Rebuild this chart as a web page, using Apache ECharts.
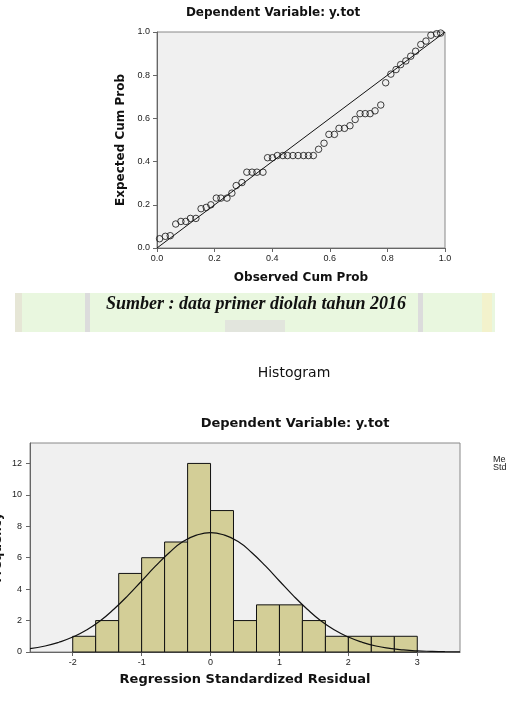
<!DOCTYPE html>
<html>
<head>
<meta charset="utf-8">
<script src="https://cdn.jsdelivr.net/npm/echarts@6/dist/echarts.min.js"></script>
<style>
html, body { margin: 0; padding: 0; background: #fff; }
#chart { width: 506px; height: 710px; }
</style>
</head>
<body>
<div id="chart"></div>
<script>
// normal P-P plot points
var obsCumProb = [0.009, 0.029, 0.046, 0.065, 0.083, 0.100, 0.116, 0.135, 0.153, 0.171,
  0.187, 0.206, 0.222, 0.243, 0.260, 0.275, 0.295, 0.312, 0.330, 0.347,
  0.368, 0.384, 0.401, 0.418, 0.437, 0.453, 0.472, 0.490, 0.509, 0.526,
  0.543, 0.561, 0.580, 0.597, 0.616, 0.632, 0.651, 0.670, 0.688, 0.705,
  0.723, 0.740, 0.757, 0.777, 0.794, 0.812, 0.830, 0.846, 0.864, 0.881,
  0.898, 0.916, 0.934, 0.951, 0.971, 0.985]
var expCumProb = [0.043, 0.054, 0.057, 0.111, 0.123, 0.123, 0.137, 0.137, 0.182, 0.188,
  0.200, 0.231, 0.231, 0.231, 0.254, 0.289, 0.303, 0.351, 0.351, 0.351,
  0.351, 0.418, 0.418, 0.428, 0.428, 0.428, 0.428, 0.428, 0.428, 0.428,
  0.428, 0.457, 0.485, 0.526, 0.526, 0.554, 0.554, 0.566, 0.595, 0.622,
  0.622, 0.622, 0.635, 0.662, 0.765, 0.805, 0.826, 0.849, 0.866, 0.888,
  0.911, 0.942, 0.958, 0.985, 0.992, 0.995]
var refLine = [[0, 0], [1, 1]]

// histogram bins
var binStart = [-2, -1.667, -1.333, -1, -0.667, -0.333, 0, 0.333, 0.667, 1, 1.333, 1.667, 2, 2.333, 2.667]
var binEnd = [-1.667, -1.333, -1, -0.667, -0.333, 0, 0.333, 0.667, 1, 1.333, 1.667, 2, 2.333, 2.667, 3]
var frequency = [1, 2, 5, 6, 7, 12, 9, 2, 3, 3, 2, 1, 1, 1, 1]

// normal curve over the histogram
var curveX = [-2.62, -2.4, -2.2, -2.0, -1.8, -1.6, -1.4, -1.2, -1.0, -0.8, -0.6, -0.4, -0.2, 0,
  0.2, 0.4, 0.6, 0.8, 1.0, 1.2, 1.4, 1.6, 1.8, 2.0, 2.2, 2.4, 2.6, 2.8, 3.0, 3.2, 3.4, 3.62]
var curveY = [0.22, 0.38, 0.62, 0.95, 1.40, 1.99, 2.74, 3.59, 4.52, 5.46, 6.32, 7.03, 7.44, 7.6,
  7.44, 7.03, 6.32, 5.46, 4.52, 3.59, 2.74, 1.99, 1.40, 0.95, 0.62, 0.38, 0.23, 0.13, 0.07, 0.04, 0.02, 0.01]

var histXTicks = [-2, -1, 0, 1, 2, 3]
var histYTicks = [0, 2, 4, 6, 8, 10, 12]

var chart = echarts.init(document.getElementById('chart'))

var labelFont = { fontSize: 9, color: '#222', fontFamily: 'Liberation Sans' }
var nameFont = { fontSize: 12, fontWeight: 'bold', color: '#111', fontFamily: 'DejaVu Sans' }
var axisGray = { color: '#666', width: 1 }

var histData = binStart.map(function (s, i) { return [s, binEnd[i], frequency[i]] })
var curveData = curveX.map(function (x, i) { return [x, curveY[i]] })
var ppData = obsCumProb.map(function (x, i) { return [x, expCumProb[i]] })

var option = {
  backgroundColor: '#fff',
  animation: false,
  grid: [
    { left: 157, top: 32, width: 288, height: 216, outerBoundsMode: 'none', show: true, backgroundColor: '#f0f0f0', borderColor: '#888', borderWidth: 1 },
    { left: 30, top: 443, width: 430, height: 209, outerBoundsMode: 'none', show: true, backgroundColor: '#f0f0f0', borderColor: '#888', borderWidth: 1 }
  ],
  xAxis: [{
    gridIndex: 0, type: 'value', min: 0, max: 1, interval: 0.2,
    axisLine: { show: true, onZero: false, lineStyle: axisGray },
    axisTick: { show: true, length: 4, lineStyle: axisGray },
    axisLabel: Object.assign({ margin: 6, formatter: function (v) { return v.toFixed(1) } }, labelFont),
    splitLine: { show: false },
    name: 'Observed Cum Prob', nameLocation: 'middle', nameGap: 24, nameTextStyle: nameFont
  }, {
    gridIndex: 1, type: 'value', min: -2.62, max: 3.62,
    axisLine: { show: true, onZero: false, lineStyle: axisGray },
    axisTick: { show: true, length: 4, lineStyle: axisGray, customValues: histXTicks },
    axisLabel: Object.assign({ margin: 6, customValues: histXTicks }, labelFont),
    splitLine: { show: false },
    name: 'Regression Standardized Residual', nameLocation: 'middle', nameGap: 21,
    nameTextStyle: Object.assign({}, nameFont, { fontSize: 13 })
  }],
  yAxis: [{
    gridIndex: 0, type: 'value', min: 0, max: 1, interval: 0.2,
    axisLine: { show: true, onZero: false, lineStyle: axisGray },
    axisTick: { show: true, length: 4, lineStyle: axisGray },
    axisLabel: Object.assign({ margin: 7, formatter: function (v) { return v.toFixed(1) } }, labelFont),
    splitLine: { show: false },
    name: 'Expected Cum Prob', nameLocation: 'middle', nameGap: 27, nameTextStyle: nameFont
  }, {
    gridIndex: 1, type: 'value', min: 0, max: 13.3,
    axisLine: { show: true, onZero: false, lineStyle: axisGray },
    axisTick: { show: true, length: 4, lineStyle: axisGray, customValues: histYTicks },
    axisLabel: Object.assign({ margin: 8, customValues: histYTicks }, labelFont),
    splitLine: { show: false },
    name: 'Frequency', nameLocation: 'middle', nameGap: 26, nameMoveOverlap: false, nameTextStyle: nameFont
  }],
  series: [{
    type: 'line', xAxisIndex: 0, yAxisIndex: 0, data: refLine,
    symbol: 'none', lineStyle: { color: '#111', width: 1 }, z: 2
  }, {
    type: 'scatter', xAxisIndex: 0, yAxisIndex: 0, data: ppData,
    symbol: 'circle', symbolSize: 6.5,
    itemStyle: { color: 'rgba(240,240,240,0)', borderColor: '#111', borderWidth: 1 }, z: 3
  }, {
    type: 'custom', xAxisIndex: 1, yAxisIndex: 1, data: histData,
    encode: { x: [0, 1], y: 2 },
    renderItem: function (params, api) {
      var p0 = api.coord([api.value(0), api.value(2)])
      var p1 = api.coord([api.value(1), 0])
      return {
        type: 'rect',
        shape: { x: p0[0], y: p0[1], width: p1[0] - p0[0], height: p1[1] - p0[1] },
        style: { fill: '#d3ce97', stroke: '#111', lineWidth: 1 }
      }
    },
    z: 2
  }, {
    type: 'line', xAxisIndex: 1, yAxisIndex: 1, data: curveData,
    smooth: true, symbol: 'none', lineStyle: { color: '#111', width: 1.2 }, z: 3
  }],
  graphic: [
    // faint watermark band behind the source note
    { type: 'rect', silent: true, z: -10, shape: { x: 15, y: 293, width: 480, height: 39 }, style: { fill: '#e9f7df' } },
    { type: 'rect', silent: true, z: -9, shape: { x: 15, y: 293, width: 7, height: 39 }, style: { fill: '#e6e6d6' } },
    { type: 'rect', silent: true, z: -9, shape: { x: 85, y: 293, width: 5, height: 39 }, style: { fill: '#dcdcdc' } },
    { type: 'rect', silent: true, z: -9, shape: { x: 225, y: 320, width: 60, height: 12 }, style: { fill: '#e2e5dd' } },
    { type: 'rect', silent: true, z: -9, shape: { x: 418, y: 293, width: 5, height: 39 }, style: { fill: '#dcdcdc' } },
    { type: 'rect', silent: true, z: -9, shape: { x: 482, y: 293, width: 10, height: 39 }, style: { fill: '#f3f2cc' } },
    {
      type: 'text', x: 273, y: 13,
      style: { text: 'Dependent Variable: y.tot', fontSize: 12, fontWeight: 'bold', fontFamily: 'DejaVu Sans', fill: '#111', textAlign: 'center', textVerticalAlign: 'middle' }
    },
    {
      type: 'text', x: 256, y: 304,
      style: { text: 'Sumber : data primer diolah tahun 2016', fontSize: 18, fontWeight: 'bold', fontStyle: 'italic', fontFamily: 'Liberation Serif', fill: '#111', textAlign: 'center', textVerticalAlign: 'middle' }
    },
    {
      type: 'text', x: 294, y: 373,
      style: { text: 'Histogram', fontSize: 14, fontFamily: 'DejaVu Sans', fill: '#111', textAlign: 'center', textVerticalAlign: 'middle' }
    },
    {
      type: 'text', x: 295, y: 424,
      style: { text: 'Dependent Variable: y.tot', fontSize: 13, fontWeight: 'bold', fontFamily: 'DejaVu Sans', fill: '#111', textAlign: 'center', textVerticalAlign: 'middle' }
    },
    {
      type: 'text', x: 493, y: 460,
      style: { text: 'Mean = 1.08E-15', fontSize: 9, fontFamily: 'Liberation Sans', fill: '#222', textVerticalAlign: 'middle' }
    },
    {
      type: 'text', x: 493, y: 468,
      style: { text: 'Std. Dev. = 0.982', fontSize: 9, fontFamily: 'Liberation Sans', fill: '#222', textVerticalAlign: 'middle' }
    }
  ]
}

chart.setOption(option)
</script>
</body>
</html>
